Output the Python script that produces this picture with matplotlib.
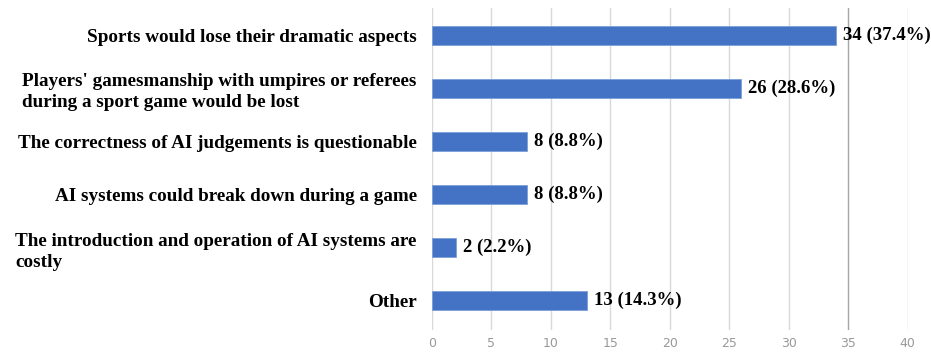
import matplotlib.pyplot as plt
import numpy as np

categories = [
    "Sports would lose their dramatic aspects",
    "Players' gamesmanship with umpires or referees\nduring a sport game would be lost",
    "The correctness of AI judgements is questionable",
    "AI systems could break down during a game",
    "The introduction and operation of AI systems are\ncostly",
    "Other",
]
counts = [34, 26, 8, 8, 2, 13]
percents = [37.4, 28.6, 8.8, 8.8, 2.2, 14.3]
xticks = [0, 5, 10, 15, 20, 25, 30, 35, 40]

serif = ['Liberation Serif', 'DejaVu Serif']

fig = plt.figure(figsize=(9.31, 3.54), dpi=100)
ax = fig.add_axes([0.464, 0.068, 0.511, 0.909])

y = np.arange(len(categories))
ax.barh(y, counts, height=0.36, color='#4472C4', edgecolor='#7b9fd9', linewidth=0.6, zorder=3)

for yi, c, p in zip(y, counts, percents):
    ax.text(c + 0.6, yi, f"{c} ({p}%)", va='center', ha='left',
            fontsize=13.5, fontweight='bold', family=serif, zorder=4)

ax.set_yticks(y)
ax.set_yticklabels(categories, fontsize=13.8, fontweight='bold', family=serif,
                   multialignment='left', linespacing=1.3)
ax.set_xticks(xticks)
ax.set_xticklabels([str(t) for t in xticks], color='#999999', fontsize=9)
ax.set_xlim(0, 40)
ax.set_ylim(5.55, -0.51)

for t in xticks:
    col = '#a6a6a6' if t == 35 else '#d9d9d9'
    ax.axvline(t, color=col, linewidth=1.0, zorder=1)

for s in ax.spines.values():
    s.set_visible(False)
ax.tick_params(axis='both', length=0)
ax.tick_params(axis='y', pad=11)
ax.tick_params(axis='x', pad=5)

fig.savefig('out.png', dpi=100)
